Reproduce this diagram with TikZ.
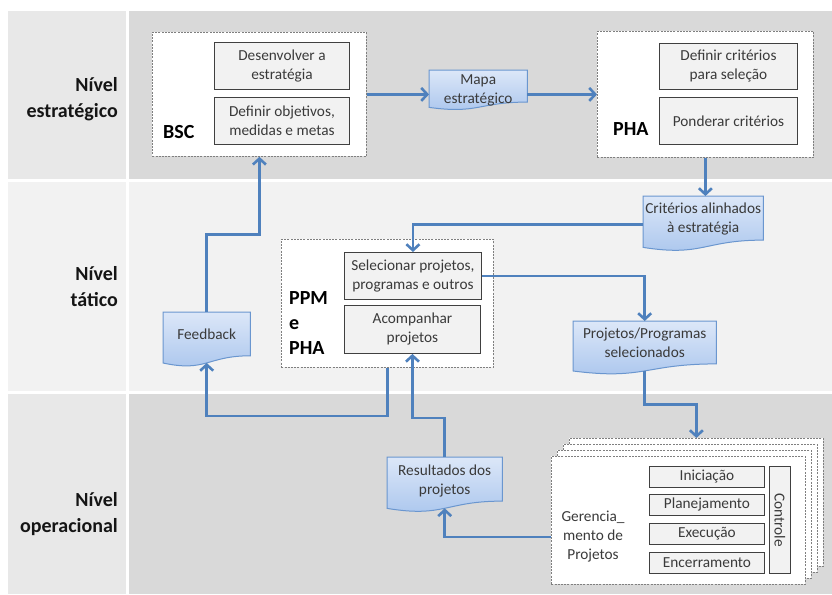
\documentclass[tikz,border=0pt]{standalone}
\usepackage{fontspec}
\setmainfont{Carlito}
\usetikzlibrary{arrows.meta,calc}
\pgfdeclarelayer{bands}
\pgfdeclarelayer{docs}
\pgfsetlayers{bands,docs,main}

\definecolor{bandD}{HTML}{D9D9D9}
\definecolor{bandL}{HTML}{F2F2F2}
\definecolor{bandC}{HTML}{E8E8E8}
\definecolor{arrowblue}{HTML}{4F81BD}
\definecolor{docborder}{HTML}{6A96CF}
\definecolor{doctop}{HTML}{DCE7F8}
\definecolor{docbot}{HTML}{A9C5ED}
\definecolor{boxfill}{HTML}{F2F2F2}
\definecolor{boxline}{HTML}{404040}
\definecolor{dashline}{HTML}{7F7F7F}
\definecolor{txt}{HTML}{3A3A3A}
\definecolor{lbl}{HTML}{151515}

\newcommand\smallfnt{\fontsize{15.3}{19}\selectfont}
\newcommand\bigfnt{\fontsize{20}{26}\selectfont\bfseries}
\newcommand\tagfnt{\fontsize{20}{25}\selectfont\bfseries}

\newcommand\docshape[2]{%
 \begin{pgfonlayer}{docs}
 \shadedraw[top color=doctop,bottom color=docbot,draw=docborder,line width=1pt]
   (#1.north west) -- (#1.north east) -- ($(#1.north east)+(0,{0.802*#2})$)
   .. controls ($(#1.north)+(0,{0.802*#2})$) and ($(#1.north)+(0,{1.107*#2})$) .. ($(#1.north west)+(0,{0.934*#2})$) -- cycle;
 \end{pgfonlayer}
 \coordinate (#1-bot) at ($(#1.north)+(0,{0.933*#2})$);
}

\tikzset{
 dashbox/.style={draw=dashline, fill=white, dash pattern=on 2pt off 1.2pt, line width=0.8pt, anchor=north west, inner sep=0, rectangle},
 stepbox/.style={draw=boxline, fill=boxfill, line width=0.9pt, anchor=north west, inner sep=0, align=center, font=\smallfnt, text=txt, rectangle},
 docnode/.style={anchor=north west, inner sep=0, align=center, font=\smallfnt, text=txt, rectangle},
 lvl/.style={anchor=east, align=right, font=\bigfnt, text=lbl, inner sep=0},
 tag/.style={font=\tagfnt, align=left, inner sep=0, anchor=west, text=black},
 flow/.style={draw=arrowblue, line width=2.6pt, line join=miter, -{Straight Barb[length=6pt,width=13pt]}}
}

\begin{document}
\begin{tikzpicture}[x=1pt,y=-1pt]
\useasboundingbox (0,0) rectangle (832,594);

% bands
\begin{pgfonlayer}{bands}
\fill[bandC] (8,11) rectangle (126,179);
\fill[bandD] (129,11) rectangle (832,179);
\fill[bandL] (8,182) rectangle (126,391);
\fill[bandL] (129,182) rectangle (832,391);
\fill[bandC] (8,394) rectangle (126,594);
\fill[bandD] (129,394) rectangle (832,594);
\end{pgfonlayer}

% level labels
\node[lvl] (lvl1) at (118,99.5) {Nível\\estratégico};
\node[lvl] (lvl2) at (118,287) {Nível\\tático};
\node[lvl] (lvl3) at (118,514.5) {Nível\\operacional};

% BSC
\node[dashbox, minimum width=214pt, minimum height=124pt] (bsc) at (152,32) {};
\node[stepbox, minimum width=135pt, minimum height=47pt] (d1) at (214,42) {Desenvolver a\\estratégia};
\node[stepbox, minimum width=135pt, minimum height=47pt] (d2) at (214,97) {Definir objetivos,\\medidas e metas};
\node[tag] (bsctag) at (163,132) {BSC};

% PHA
\node[dashbox, minimum width=216pt, minimum height=126pt] (pha) at (597,31) {};
\node[stepbox, minimum width=138pt, minimum height=46pt] (p1) at (659,43) {Definir critérios\\para seleção};
\node[stepbox, minimum width=138pt, minimum height=47pt] (p2) at (659,97) {Ponderar critérios};
\node[tag] (phatag) at (613,129) {PHA};

% PPM
\node[dashbox, minimum width=212pt, minimum height=128pt] (ppm) at (281,239) {};
\node[stepbox, minimum width=137pt, minimum height=47pt] (sel) at (344,252) {Selecionar projetos,\\programas e outros};
\node[stepbox, minimum width=136pt, minimum height=48pt] (acomp) at (344,305) {Acompanhar\\projetos};
\node[tag] (ppmtag) at (289,323) {PPM\\e\\PHA};

% stacked project management boxes
\node[dashbox, minimum width=254pt, minimum height=128pt] (g4) at (569,438) {};
\node[dashbox, minimum width=254pt, minimum height=128pt] (g3) at (563,444) {};
\node[dashbox, minimum width=254pt, minimum height=128pt] (g2) at (557,450) {};
\node[dashbox, minimum width=254pt, minimum height=128pt] (g1) at (551,456) {};
\node[stepbox, minimum width=115pt, minimum height=21pt] (s1) at (649,466) {Iniciação};
\node[stepbox, minimum width=115pt, minimum height=21pt] (s2) at (649,494) {Planejamento};
\node[stepbox, minimum width=115pt, minimum height=21pt] (s3) at (649,523) {Execução};
\node[stepbox, minimum width=115pt, minimum height=21pt] (s4) at (649,552) {Encerramento};
\node[stepbox, minimum width=21pt, minimum height=107pt] (ctl) at (769,466) {};
\node[font=\smallfnt, text=txt, rotate=-90, inner sep=0] (ctltxt) at (ctl.center) {Controle};
\node[font=\smallfnt, text=txt, align=center, inner sep=0] (gtext) at (593,537) {Gerencia\_\\mento de\\Projetos};

% documents
\node[docnode, minimum width=98pt, minimum height=40pt] (mapa) at (429,70) {Mapa\\estratégico};
\docshape{mapa}{40}
\node[docnode, minimum width=120pt, minimum height=45pt] (crit) at (643,196) {Critérios alinhados\\à estratégia};
\docshape{crit}{55}
\node[docnode, minimum width=143pt, minimum height=43pt] (proj) at (573,321) {Projetos/Programas\\selecionados};
\docshape{proj}{53.5}
\node[docnode, minimum width=87pt, minimum height=44pt] (fb) at (163,312) {Feedback};
\docshape{fb}{54.6}
\node[docnode, minimum width=115pt, minimum height=48pt] (res) at (387,457) {Resultados dos\\projetos};
\docshape{res}{55}

% connectors
\draw[flow] (bsc.east) -- (bsc.east -| mapa.west);
\draw[flow] (pha.west -| mapa.east) -- (pha.west);
\draw[flow] (pha.south) -- (pha.south |- crit.north);
\draw[flow] ([yshift=-6pt]crit.west) -| (sel.north);
\draw[flow] (sel.east) -| (proj.north);
\draw[flow] (proj-bot) |- ($(proj-bot)!0.5!(g4.north)$) -| (g4.north);
\draw[flow] (fb.north) |- ($(fb.north)!0.5!(bsc.south)$) -| (bsc.south);
\draw[flow] (ppm.south) -- ++(0,48) -| (fb-bot);
\draw[flow] (res.north) -- ++(0,-39) -| (acomp.south);
\draw[flow] (g1.west |- gtext) -| (res-bot);
\end{tikzpicture}
\end{document}
